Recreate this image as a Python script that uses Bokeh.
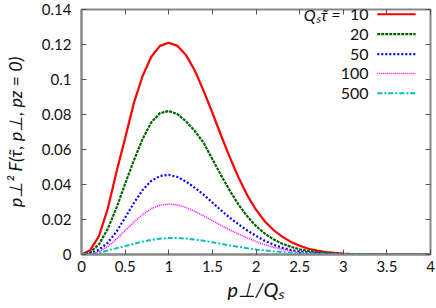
from bokeh.plotting import figure
from bokeh.models import Range1d, FixedTicker, LinearAxis, Label, Arrow, CustomJSTickFormatter
from bokeh.embed import file_html
from bokeh.resources import INLINE

# ---- data ----
p_perp = [0.0, 0.1, 0.2, 0.3, 0.4, 0.5, 0.6, 0.7, 0.8, 0.9,
          1.0, 1.1, 1.2, 1.3, 1.4, 1.5, 1.6, 1.7, 1.8, 1.9,
          2.0, 2.1, 2.2, 2.3, 2.4, 2.5, 2.6, 2.7, 2.8, 2.9,
          3.0, 3.1, 3.2, 3.3, 3.4, 3.5, 3.6, 3.7, 3.8, 3.9, 4.0]

tau_10 = [0.0, 0.0025, 0.0105, 0.026, 0.047, 0.0665, 0.0865, 0.1020, 0.1130, 0.1192,
          0.1210, 0.1192, 0.1138, 0.1050, 0.0935, 0.0810, 0.0680, 0.0555, 0.0440, 0.0338,
          0.0256, 0.0190, 0.0140, 0.0102, 0.0072, 0.0050, 0.0033, 0.0022, 0.0014, 0.0009,
          0.0005, 0.0003, 0.0002, 0.0001, 0.0001, 0.0, 0.0, 0.0, 0.0, 0.0, 0.0]

tau_20 = [0.0, 0.0012, 0.0058, 0.0145, 0.0265, 0.0405, 0.0537, 0.0660, 0.0755, 0.0808,
          0.0820, 0.0802, 0.0760, 0.0705, 0.0638, 0.0545, 0.0452, 0.0365, 0.0285, 0.0218,
          0.0163, 0.0120, 0.0087, 0.0062, 0.0044, 0.0030, 0.0020, 0.0013, 0.0008, 0.0005,
          0.0003, 0.0002, 0.0001, 0.0001, 0.0, 0.0, 0.0, 0.0, 0.0, 0.0, 0.0]

tau_50 = [0.0, 0.0006, 0.0027, 0.0067, 0.0130, 0.0210, 0.0294, 0.0368, 0.0421, 0.0449,
          0.0455, 0.0443, 0.0416, 0.0381, 0.0342, 0.0297, 0.0252, 0.0210, 0.0172, 0.0137,
          0.0106, 0.0079, 0.0056, 0.0039, 0.0026, 0.0017, 0.0011, 0.0007, 0.0004, 0.0003,
          0.0002, 0.0001, 0.0, 0.0, 0.0, 0.0, 0.0, 0.0, 0.0, 0.0, 0.0]

tau_100 = [0.0, 0.0003, 0.0017, 0.0045, 0.0087, 0.0137, 0.0185, 0.0228, 0.0262, 0.0282,
           0.0288, 0.0283, 0.0268, 0.0246, 0.0221, 0.0193, 0.0166, 0.0140, 0.0117, 0.0095,
           0.0074, 0.0056, 0.0041, 0.0030, 0.0021, 0.0014, 0.0009, 0.0006, 0.0004, 0.0002,
           0.0001, 0.0, 0.0, 0.0, 0.0, 0.0, 0.0, 0.0, 0.0, 0.0, 0.0]

tau_500 = [0.0, 0.0002, 0.0009, 0.0023, 0.0036, 0.0048, 0.0061, 0.0073, 0.0083, 0.0090,
           0.0094, 0.0094, 0.0091, 0.0086, 0.0079, 0.0070, 0.0061, 0.0052, 0.0044, 0.0036,
           0.0029, 0.0023, 0.0018, 0.0014, 0.0011, 0.0009, 0.0007, 0.0005, 0.0004, 0.0003,
           0.0002, 0.0001, 0.0001, 0.0, 0.0, 0.0, 0.0, 0.0, 0.0, 0.0, 0.0]

series_labels = ["10", "20", "50", "100", "500"]
legend_title = "Qₛτ̃ ="

x_ticks = [0, 0.5, 1, 1.5, 2, 2.5, 3, 3.5, 4]
x_tick_labels = ["0", "0.5", "1", "1.5", "2", "2.5", "3", "3.5", "4"]
y_ticks = [0, 0.02, 0.04, 0.06, 0.08, 0.1, 0.12, 0.14]
y_tick_labels = ["0", "0.02", "0.04", "0.06", "0.08", "0.1", "0.12", "0.14"]

x_title = "p⊥/Qₛ"
y_title = "p⊥² F(τ̃, p⊥, pz = 0)"

# ---- styles ----
FONT = "Lato"
colors = ["#ff0000", "#006400", "#0000ff", "#ff00ff", "#00c0c0"]
dashes = ["solid", "3 1", "2 2", "1 1", "5 2 2 2"]
widths = [2.2, 2.2, 2.2, 1.6, 2.0]

p = figure(frame_width=349, frame_height=245, output_backend="svg", toolbar_location=None,
           x_range=Range1d(0, 4), y_range=Range1d(0, 0.14),
           min_border_left=70, min_border_right=9, min_border_top=9,
           min_border_bottom=46)
p.grid.visible = False
p.outline_line_color = "#888888"
p.outline_line_width = 2
p.background_fill_color = "white"
p.border_fill_color = "white"

for ax, ticks, labels in ((p.xaxis[0], x_ticks, x_tick_labels),
                          (p.yaxis[0], y_ticks, y_tick_labels)):
    ax.ticker = FixedTicker(ticks=ticks)
    ax.major_label_overrides = dict(zip(ticks, labels))
    ax.major_tick_in = 5
    ax.major_tick_out = 0
    ax.minor_tick_line_color = None
    ax.major_tick_line_color = "#555555"
    ax.axis_line_color = "#888888"
    ax.axis_line_width = 2
    ax.major_label_text_font = FONT
    ax.major_label_text_font_size = "15px"
    ax.major_label_text_color = "#111111"
    ax.axis_label_text_font = FONT
    ax.axis_label_text_font_style = "italic"
    ax.axis_label_text_color = "#111111"

p.xaxis.axis_label = x_title
p.yaxis.axis_label = y_title
p.xaxis.axis_label_text_font_size = "20px"
p.yaxis.axis_label_text_font_size = "18px"
p.xaxis.major_label_standoff = 6
p.xaxis.axis_label_standoff = 2
p.yaxis.major_label_standoff = 10
p.yaxis.axis_label_standoff = 13

# mirrored ticks on top and right (no labels)
blank = CustomJSTickFormatter(code="return ''")
for side, ticks in (("above", x_ticks), ("right", y_ticks)):
    ax = LinearAxis(ticker=FixedTicker(ticks=ticks), formatter=blank,
                    major_label_standoff=0, axis_line_color=None,
                    major_tick_in=5, major_tick_out=0, minor_tick_line_color=None,
                    major_tick_line_color="#555555")
    p.add_layout(ax, side)

series = [tau_10, tau_20, tau_50, tau_100, tau_500]
for ys, c, d, w in zip(series, colors, dashes, widths):
    p.line(p_perp, ys, line_color=c, line_dash=d, line_width=w)

# gnuplot-style key: labels on the left, line samples on the right
rows = [0.1373, 0.1259, 0.1145, 0.1034, 0.0922]
p.add_layout(Label(x=2.97, y=rows[0], text=legend_title, text_align="right",
                   text_baseline="middle", text_font=FONT, text_font_style="italic",
                   text_font_size="16px", text_color="#111111"))
for lab, r, c, d, w in zip(series_labels, rows, colors, dashes, widths):
    p.add_layout(Label(x=3.29, y=r, text=lab, text_align="right", text_baseline="middle",
                       text_font=FONT, text_font_size="16px", text_color="#111111"))
    p.add_layout(Arrow(x_start=3.39, y_start=r, x_end=3.83, y_end=r, end=None,
                       line_color=c, line_dash=d, line_width=w))

open("out.html", "w").write(file_html(p, INLINE))
